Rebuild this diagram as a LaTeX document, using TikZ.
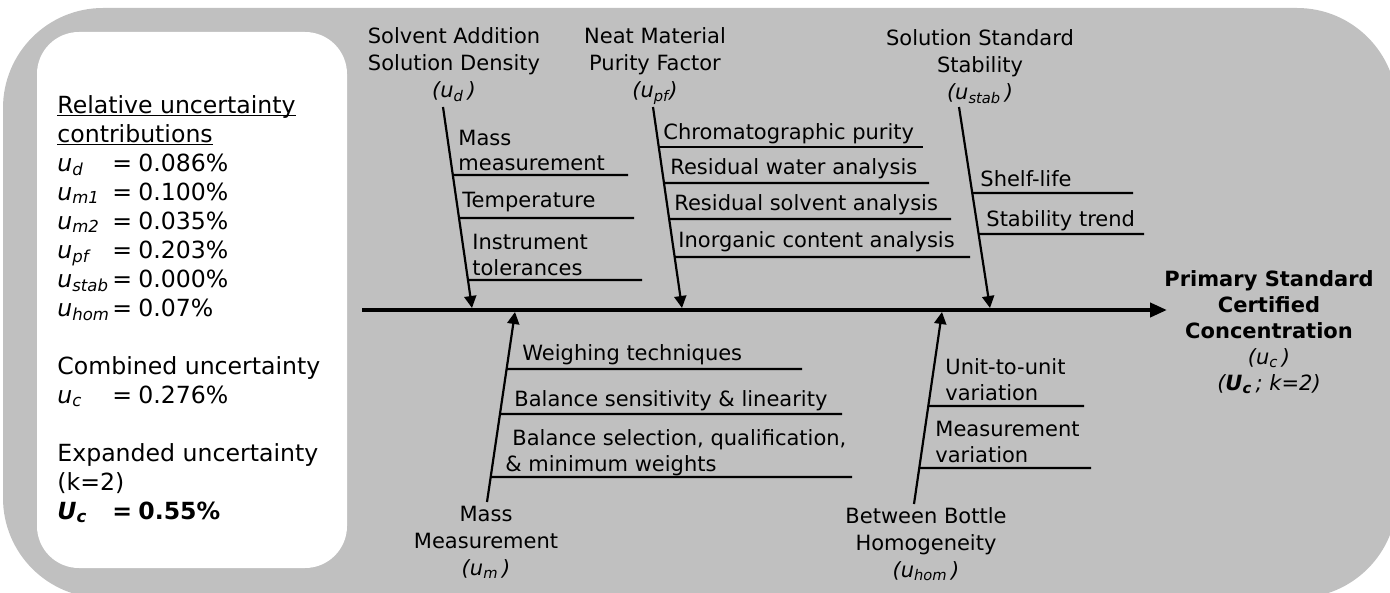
\documentclass[tikz,border=0pt]{standalone}
\usepackage{fontspec}
\setmainfont{DejaVu Sans}
\usetikzlibrary{arrows.meta, positioning, calc}
\definecolor{panel}{HTML}{C0C0C0}
\newcommand{\unc}[1]{\textit{u}\textsubscript{\textit{#1}}}
\newcommand{\ruleunder}[1]{\setbox0\hbox{#1}\rlap{\rule[-1.7pt]{\wd0}{0.6pt}}\box0}
\newcommand{\entry}[2]{\makebox[27.5pt][l]{#1}\makebox[13pt][l]{=}#2}

\begin{document}
\begin{tikzpicture}[
    x=0.5pt, y=-0.5pt,
    cause/.style={align=center, inner sep=0pt, anchor=base, font=\fontsize{10.5}{13.5}\selectfont},
    twiglabel/.style={align=left, inner sep=0pt, anchor=base west, font=\fontsize{10.5}{13}\selectfont},
    branch/.style={-{Triangle[length=6pt, width=6pt]}, line width=1.1pt},
    spine/.style={-{Triangle[length=8.5pt, width=7pt]}, line width=2pt},
    twig/.style={line width=1.1pt}
]
    \useasboundingbox (0,0) rectangle (1390,593);
    \fill[panel, rounded corners=50pt] (3,8) rectangle (1397,598);
    \node[fill=white, rounded corners=21pt, minimum width=155pt, minimum height=268pt, inner sep=0pt] (panelbox) at (192,300) {};

    % multi-line nodes sit on the baseline of their last line
    \node[anchor=base west, align=left, inner sep=0pt, font=\fontsize{11.8}{14.5}\selectfont] (summary) at (57,519) {%
        \ruleunder{Relative uncertainty}\\
        \ruleunder{contributions}\\
        \entry{\unc{d}}{0.086\%}\\
        \entry{\unc{m1}}{0.100\%}\\
        \entry{\unc{m2}}{0.035\%}\\
        \entry{\unc{pf}}{0.203\%}\\
        \entry{\unc{stab}}{0.000\%}\\
        \entry{\unc{hom}}{0.07\%}\\[14.5pt]
        Combined uncertainty\\
        \entry{\unc{c}}{0.276\%}\\[14.5pt]
        Expanded uncertainty\\
        (k=2)\\
        \textbf{\entry{\textit{U}\textsubscript{\textit{c}}}{0.55\%}}};

    \node[cause] (density) at (454,98) {Solvent Addition\\Solution Density\\\textit{(u\textsubscript{d}\,)}};
    \node[cause] (purity) at (655,98) {Neat Material\\Purity Factor\\\textit{(u\textsubscript{pf})}};
    \node[cause] (stability) at (980,100) {Solution Standard\\Stability\\\textit{(u\textsubscript{stab}\,)}};
    \node[cause] (mass) at (486,575) {Mass\\Measurement\\\textit{(u\textsubscript{m}\,)}};
    \node[cause] (homogeneity) at (926,577) {Between Bottle\\Homogeneity\\\textit{(u\textsubscript{hom}\,)}};
    \node[anchor=base, align=center, inner sep=0pt, font=\fontsize{10.5}{13}\selectfont] (result) at (1269,390)
        {\textbf{Primary Standard}\\\textbf{Certified}\\\textbf{Concentration}\\\textit{(u\textsubscript{c}\,)}\\\textit{(\textbf{U\textsubscript{c}}\,; k=2)}};

    \coordinate (tail) at (362,310);
    \coordinate (head) at (1167,310);
    \coordinate (dtop) at (443,107);
    \coordinate (dend) at (472,308);
    \coordinate (pftop) at (653,107);
    \coordinate (pfend) at (682,308);
    \coordinate (stabtop) at (959,107);
    \coordinate (stabend) at (990,308);
    \coordinate (mbase) at (487,502);
    \coordinate (mend) at (515,312);
    \coordinate (hombase) at (914,504);
    \coordinate (homend) at (942,312);

    \draw[spine] (tail) -- (head);
    \draw[branch] (dtop) -- (dend);
    \draw[branch] (pftop) -- (pfend);
    \draw[branch] (stabtop) -- (stabend);
    \draw[branch] (mbase) -- (mend);
    \draw[branch] (hombase) -- (homend);

    \node[twiglabel] (massm) at (458,171) {Mass\\measurement};
    \node[twiglabel] (temp) at (462,207) {Temperature};
    \node[twiglabel] (instr) at (472,275) {Instrument\\tolerances};
    \coordinate (massm-end) at (628,175);
    \coordinate (temp-end) at (634,218);
    \coordinate (instr-end) at (642,280);
    \draw[twig] ($(dtop)!0.338!(dend)$) -- (massm-end);
    \draw[twig] ($(dtop)!0.552!(dend)$) -- (temp-end);
    \draw[twig] ($(dtop)!0.861!(dend)$) -- (instr-end);

    \node[twiglabel] (chrom) at (663,140) {Chromatographic purity};
    \node[twiglabel] (water) at (670,175) {Residual water analysis};
    \node[twiglabel] (solvent) at (674,211) {Residual solvent analysis};
    \node[twiglabel] (inorg) at (678,248) {Inorganic content analysis};
    \coordinate (chrom-end) at (923,147);
    \coordinate (water-end) at (929,183);
    \coordinate (solvent-end) at (951,219);
    \coordinate (inorg-end) at (970,257);
    \draw[twig] ($(pftop)!0.199!(pfend)$) -- (chrom-end);
    \draw[twig] ($(pftop)!0.378!(pfend)$) -- (water-end);
    \draw[twig] ($(pftop)!0.557!(pfend)$) -- (solvent-end);
    \draw[twig] ($(pftop)!0.746!(pfend)$) -- (inorg-end);

    \node[twiglabel] (shelf) at (980,187) {Shelf-life};
    \node[twiglabel] (trend) at (986,227) {Stability trend};
    \coordinate (shelf-end) at (1133,193);
    \coordinate (trend-end) at (1144,234);
    \draw[twig] ($(stabtop)!0.428!(stabend)$) -- (shelf-end);
    \draw[twig] ($(stabtop)!0.632!(stabend)$) -- (trend-end);

    \node[twiglabel] (weigh) at (522,360) {Weighing techniques};
    \node[twiglabel] (sens) at (514,406) {Balance sensitivity \& linearity};
    \node[twiglabel] (select) at (505,471) {\hspace*{3.5pt}Balance selection, qualification,\\\& minimum weights};
    \coordinate (weigh-end) at (802,369);
    \coordinate (sens-end) at (842,414);
    \coordinate (select-end) at (852,477);
    \draw[twig] ($(mbase)!0.700!(mend)$) -- (weigh-end);
    \draw[twig] ($(mbase)!0.463!(mend)$) -- (sens-end);
    \draw[twig] ($(mbase)!0.132!(mend)$) -- (select-end);

    \node[twiglabel] (unit) at (945,400) {Unit-to-unit\\variation};
    \node[twiglabel] (meas) at (935,462) {Measurement\\variation};
    \coordinate (unit-end) at (1084,406);
    \coordinate (meas-end) at (1091,468);
    \draw[twig] ($(hombase)!0.510!(homend)$) -- (unit-end);
    \draw[twig] ($(hombase)!0.188!(homend)$) -- (meas-end);
\end{tikzpicture}
\end{document}
